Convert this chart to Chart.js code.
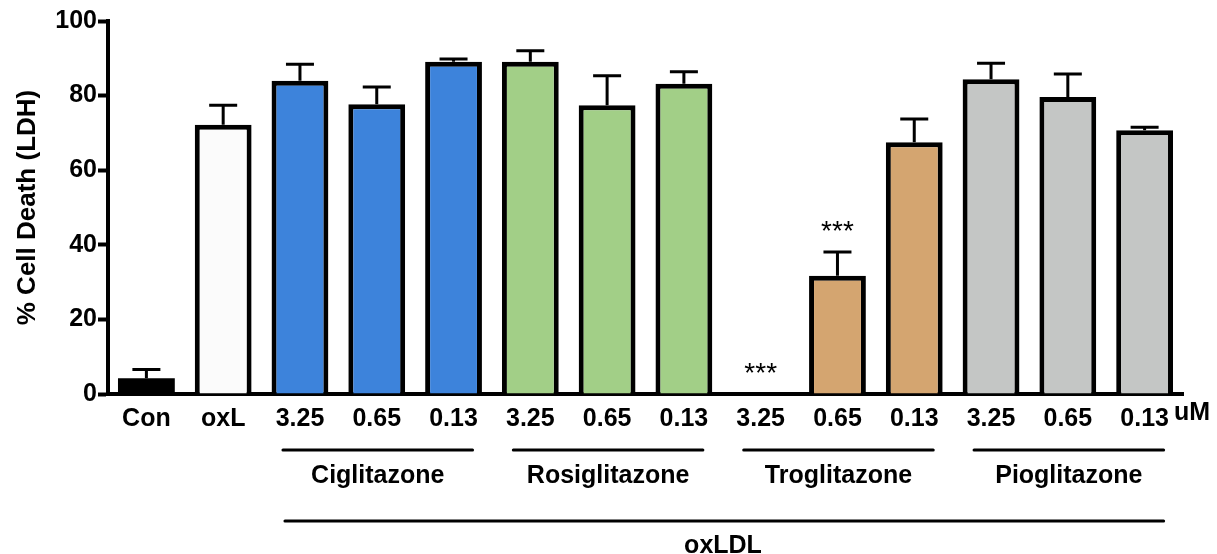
<!DOCTYPE html>
<html>
<head>
<meta charset="utf-8">
<script src="https://cdn.jsdelivr.net/npm/chart.js@4.4.1/dist/chart.umd.min.js"></script>
<style>
  html, body { margin: 0; padding: 0; background: #fff; }
  #wrap { width: 1217px; height: 554px; }
</style>
</head>
<body>
<div id="wrap"><canvas id="cellChart" width="1217" height="554"></canvas></div>
<script>
// DATA
const categories = ["Con", "oxL", "3.25", "0.65", "0.13", "3.25", "0.65", "0.13", "3.25", "0.65", "0.13", "3.25", "0.65", "0.13"];
const values = [4.2, 72.2, 84.0, 77.7, 89.1, 89.1, 77.4, 83.2, 0, 31.7, 67.5, 84.4, 79.6, 70.7];
const errors = [2.4, 5.2, 4.4, 4.6, 0.7, 2.9, 7.9, 3.2, null, 6.4, 6.2, 4.3, 6.2, 0.8];
const stars = ["", "", "", "", "", "", "", "", "***", "***", "", "", "", ""];
const barColors = ["#000000", "#fbfbfb", "#3d83db", "#3d83db", "#3d83db", "#a2cf87", "#a2cf87", "#a2cf87",
  "#d4a570", "#d4a570", "#d4a570", "#c4c6c5", "#c4c6c5", "#c4c6c5"];
const yTicks = [0, 20, 40, 60, 80, 100];
const groupNames = ["Ciglitazone", "Rosiglitazone", "Troglitazone", "Pioglitazone"];
const groupStart = [2, 5, 8, 11];
const groupEnd = [4, 7, 10, 13];
const outerLabel = "oxLDL";
const outerStart = 2, outerEnd = 13;
const unitLabel = "uM";

const FONT = "'Liberation Sans', Arial, sans-serif";

// ERROR BARS + STARS
const errorBarPlugin = {
  id: "errorBars",
  afterDatasetsDraw(chart) {
    const ctx = chart.ctx;
    const y = chart.scales.y;
    const meta = chart.getDatasetMeta(0);
    ctx.save();
    ctx.strokeStyle = "#000";
    ctx.lineWidth = 3;
    meta.data.forEach((bar, i) => {
      const base = y.getPixelForValue(values[i]);
      let top = base;
      if (errors[i] != null) {
        top = y.getPixelForValue(values[i] + errors[i]);
        ctx.beginPath();
        ctx.moveTo(bar.x, base);
        ctx.lineTo(bar.x, top);
        ctx.moveTo(bar.x - 14, top);
        ctx.lineTo(bar.x + 14, top);
        ctx.stroke();
      }
      if (stars[i]) {
        ctx.fillStyle = "#000";
        ctx.font = "28px " + FONT;
        ctx.textAlign = "center";
        ctx.textBaseline = "middle";
        ctx.fillText(stars[i], bar.x, top - 20);
      }
    });
    ctx.restore();
  }
};

// GROUP LABELS UNDER AXIS
const groupPlugin = {
  id: "groups",
  afterDraw(chart) {
    const ctx = chart.ctx;
    const x = chart.scales.x;
    ctx.save();
    ctx.strokeStyle = "#000";
    ctx.fillStyle = "#000";
    ctx.lineWidth = 3;
    ctx.lineCap = "round";
    ctx.font = "bold 25px " + FONT;
    ctx.textAlign = "center";
    ctx.textBaseline = "middle";
    groupNames.forEach((name, g) => {
      const x1 = x.getPixelForValue(groupStart[g]) - 17;
      const x2 = x.getPixelForValue(groupEnd[g]) + 19;
      ctx.beginPath();
      ctx.moveTo(x1, 450);
      ctx.lineTo(x2, 450);
      ctx.stroke();
      ctx.fillText(name, (x1 + x2) / 2, 476);
    });
    const o1 = x.getPixelForValue(outerStart) - 15;
    const o2 = x.getPixelForValue(outerEnd) + 19;
    ctx.beginPath();
    ctx.moveTo(o1, 521);
    ctx.lineTo(o2, 521);
    ctx.stroke();
    ctx.fillText(outerLabel, 723, 546);
    ctx.textAlign = "left";
    ctx.fillText(unitLabel, chart.chartArea.right - 9, 413);
    ctx.restore();
  }
};

const ctx = document.getElementById("cellChart").getContext("2d");
new Chart(ctx, {
  type: "bar",
  data: {
    labels: categories,
    datasets: [{
      data: values,
      backgroundColor: barColors,
      borderColor: "#000",
      // solid black bar needs no separate outline
      borderWidth: barColors.map(c => c === "#000000" ? 0 : 5),
      borderSkipped: "bottom",
      categoryPercentage: 1,
      barPercentage: 0.74
    }]
  },
  options: {
    responsive: false,
    animation: false,
    layout: { padding: { top: 21, right: 34, left: 0, bottom: 0 } },
    plugins: {
      legend: { display: false },
      tooltip: { enabled: false }
    },
    scales: {
      x: {
        grid: { display: false },
        border: { display: true, color: "#000", width: 4 },
        ticks: {
          color: "#000",
          padding: 2,
          maxRotation: 0,
          autoSkip: false,
          font: { family: FONT, size: 25, weight: "bold" }
        },
        afterFit(scale) { scale.height = 160; }
      },
      y: {
        min: 0,
        max: 100,
        afterBuildTicks(scale) { scale.ticks = yTicks.map(v => ({ value: v })); },
        grid: { drawOnChartArea: false, drawTicks: true, tickLength: 10, tickWidth: 4, tickColor: "#000" },
        border: { display: true, color: "#000", width: 4 },
        ticks: {
          color: "#000",
          padding: 1,
          font: { family: FONT, size: 25, weight: "bold" }
        },
        title: {
          display: true,
          text: "% Cell Death (LDH)",
          color: "#000",
          padding: { top: 12, bottom: 0 },
          font: { family: FONT, size: 26, weight: "bold" }
        },
        afterFit(scale) { scale.width = 108; }
      }
    }
  },
  plugins: [errorBarPlugin, groupPlugin]
});
</script>
</body>
</html>
